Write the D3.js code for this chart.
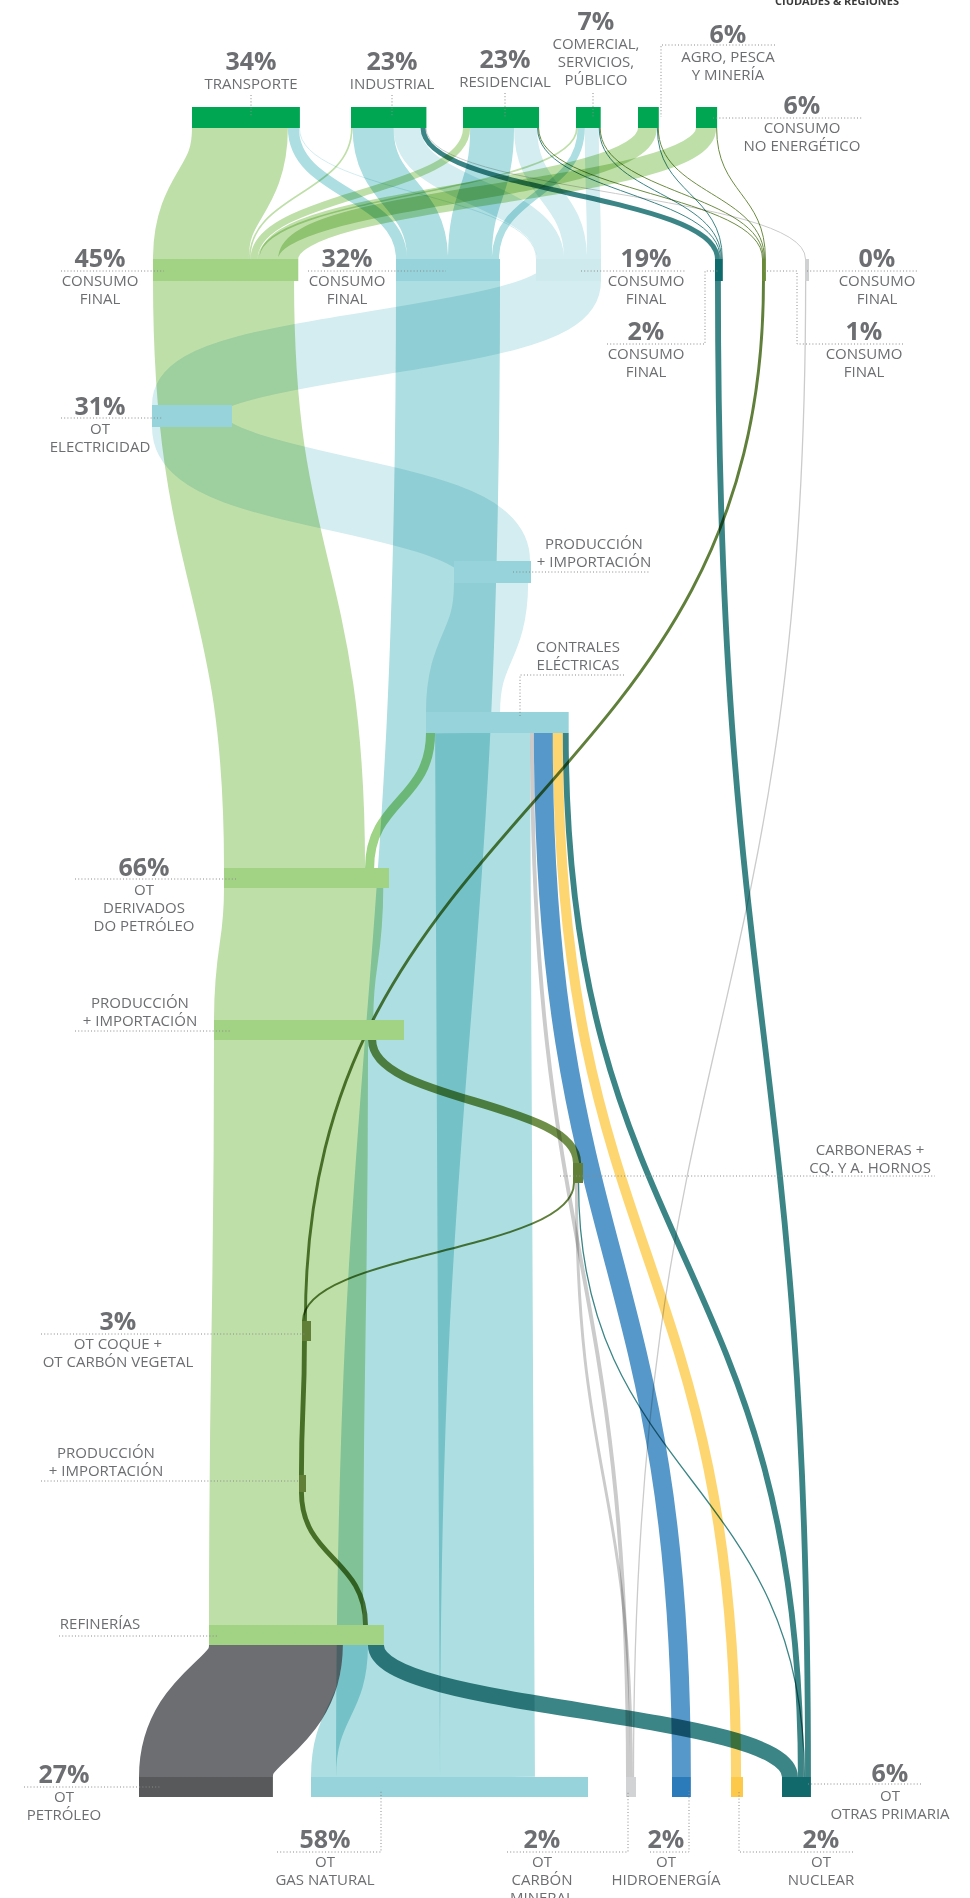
<!DOCTYPE html>
<html>
<head>
<meta charset="utf-8">
<script src="https://cdn.jsdelivr.net/npm/d3@7/dist/d3.min.js"></script>
<style>
  body { margin: 0; background: #fff; }
  svg { display: block; font-family: "Open Sans", sans-serif; }
  .link { fill: none; mix-blend-mode: multiply; }
  .pct { font-weight: 700; font-size: 25px; fill: #6d6e71; text-anchor: middle; }
  .lbl { font-size: 15px; fill: #6d6e71; text-anchor: middle; }
  .dots { fill: none; stroke: #8a8a8a; stroke-width: 1; stroke-dasharray: 1 2.2; }
</style>
</head>
<body>
<svg id="chart" width="970" height="1898"></svg>
<script>
// ---- data ----
const nodeIds = [
  "transporte", "industrial", "residencial", "comercial", "agro", "noEnergetico",
  "cf45", "cf32", "cf19", "cf2", "cf1", "cf0",
  "otElec", "prodElec", "centrales", "derivados", "prodDeriv", "carboneras",
  "coque", "prodCoque", "refinerias",
  "petroleo", "gas", "carbon", "hidro", "nuclear", "otras"
];
const nodePct = [34, 23, 23, 7, 6, 6,
  45, 32, 19, 2, 1, 0,
  31, null, null, 66, null, null,
  3, null, null,
  27, 58, 2, 2, 2, 6];
const nodeLabels = [
  ["TRANSPORTE"], ["INDUSTRIAL"], ["RESIDENCIAL"], ["COMERCIAL,", "SERVICIOS,", "PÚBLICO"],
  ["AGRO, PESCA", "Y MINERÍA"], ["CONSUMO", "NO ENERGÉTICO"],
  ["CONSUMO", "FINAL"], ["CONSUMO", "FINAL"], ["CONSUMO", "FINAL"],
  ["CONSUMO", "FINAL"], ["CONSUMO", "FINAL"], ["CONSUMO", "FINAL"],
  ["OT", "ELECTRICIDAD"], ["PRODUCCIÓN", "+ IMPORTACIÓN"], ["CONTRALES", "ELÉCTRICAS"],
  ["OT", "DERIVADOS", "DO PETRÓLEO"], ["PRODUCCIÓN", "+ IMPORTACIÓN"], ["CARBONERAS +", "CQ. Y A. HORNOS"],
  ["OT COQUE +", "OT CARBÓN VEGETAL"], ["PRODUCCIÓN", "+ IMPORTACIÓN"], ["REFINERÍAS"],
  ["OT", "PETRÓLEO"], ["OT", "GAS NATURAL"], ["OT", "CARBÓN", "MINERAL"],
  ["OT", "HIDROENERGÍA"], ["OT", "NUCLEAR"], ["OT", "OTRAS PRIMARIA"]
];

const sectorFlows = [
  ["cf45", "transporte", 29.5], ["cf45", "industrial", 0.5], ["cf45", "residencial", 2.2],
  ["cf45", "comercial", 0.5], ["cf45", "agro", 5.8], ["cf45", "noEnergetico", 6.2],
  ["cf32", "transporte", 3.4], ["cf32", "industrial", 12.6], ["cf32", "residencial", 13.5], ["cf32", "comercial", 2.2],
  ["cf19", "transporte", 0.3], ["cf19", "industrial", 8.3], ["cf19", "residencial", 7.1], ["cf19", "comercial", 4.3],
  ["cf2", "industrial", 1.5], ["cf2", "residencial", 0.3], ["cf2", "comercial", 0.3], ["cf2", "agro", 0.3],
  ["cf1", "residencial", 0.3], ["cf1", "comercial", 0.3], ["cf1", "agro", 0.3], ["cf1", "noEnergetico", 0.3],
  ["cf0", "industrial", 0.3]
];
const conversionFlows = [
  ["derivados", "cf45", 43.4], ["gas", "cf32", 32], ["otElec", "cf19", 20],
  ["otras", "cf2", 1.8], ["coque", "cf1", 0.9], ["carbon", "cf0", 0.4],
  ["prodElec", "otElec", 23.4], ["centrales", "prodElec", 22.8],
  ["derivados", "centrales", 2.8], ["prodDeriv", "derivados", 49],
  ["refinerias", "prodDeriv", 47.4], ["carboneras", "prodDeriv", 2.5],
  ["refinerias", "prodCoque", 1.5], ["prodCoque", "coque", 1.5],
  ["coque", "carboneras", 0.6]
];
const primaryFlows = [
  ["petroleo", "refinerias", 41.2], ["gas", "refinerias", 7.7], ["otras", "refinerias", 4.9],
  ["gas", "centrales", 29.2], ["carbon", "centrales", 1.2], ["hidro", "centrales", 5.8],
  ["nuclear", "centrales", 3.1], ["otras", "centrales", 1.8],
  ["carbon", "carboneras", 0.9], ["otras", "carboneras", 0.4]
];

// ---- layout ----
const rowNames = ["sector", "final", "elec", "prodElec", "centrales", "deriv", "prodDeriv",
  "carboneras", "coque", "prodCoque", "refinerias", "primary"];
const rowTops = [107, 259, 405, 561, 712, 868, 1020, 1163, 1321, 1475, 1625, 1777];
const rowHeights = [21, 22, 22, 22, 21, 20, 20, 20, 20, 17, 20, 20];
const rowY = d3.scaleOrdinal(rowNames, rowTops);
const rowH = d3.scaleOrdinal(rowNames, rowHeights);

const nodeRow = ["sector", "sector", "sector", "sector", "sector", "sector",
  "final", "final", "final", "final", "final", "final",
  "elec", "prodElec", "centrales", "deriv", "prodDeriv", "carboneras",
  "coque", "prodCoque", "refinerias",
  "primary", "primary", "primary", "primary", "primary", "primary"];
const nodeLeft = [192, 351, 463, 576, 638, 696,
  153, 396, 536, 715, 762, 805,
  152, 454, 426, 224, 214, 573,
  302, 299, 209,
  139, 311, 626, 672, 731, 782];
const nodeMinW = {otElec: 80, prodElec: 77, derivados: 165, prodDeriv: 190, carboneras: 10,
  coque: 9, prodCoque: 7, gas: 277, carbon: 10, nuclear: 12, cf0: 4};

const nodeColor = {
  transporte: "#00a651", industrial: "#00a651", residencial: "#00a651", comercial: "#00a651",
  agro: "#00a651", noEnergetico: "#00a651",
  cf45: "#a2d283", cf32: "#96d3da", cf19: "#cfeaed", cf2: "#0e6a6b", cf1: "#6a8a38", cf0: "#cfd1d2",
  otElec: "#96d3da", prodElec: "#96d3da", centrales: "#96d3da", derivados: "#a2d283",
  prodDeriv: "#a2d283", carboneras: "#627f38", coque: "#627f38", prodCoque: "#627f38",
  refinerias: "#a2d283", petroleo: "#58595b", gas: "#96d3da", carbon: "#d1d3d4",
  hidro: "#2b7bba", nuclear: "#fdc94b", otras: "#11696b"
};
const linkColor = {
  cf45: "#bfdfa9", derivados: "#bfdfa9", prodDeriv: "#bfdfa9", refinerias: "#bfdfa9",
  cf32: "#acdee2", gas: "#acdee2",
  cf19: "#d3edf0", otElec: "#d3edf0", prodElec: "#d3edf0", centrales: "#d3edf0",
  cf2: "#3b8586", otras: "#3b8586",
  cf1: "#6c8c42", coque: "#5f7f3a", prodCoque: "#5f7f3a", carboneras: "#6f8f48",
  cf0: "#cbcbcb", carbon: "#cbcbcb",
  petroleo: "#6d6e71", hidro: "#5698c9", nuclear: "#fed671"
};
const linkColorOverride = {"derivados>centrales": "#9fd386", "refinerias>prodCoque": "#5f7f3a"};

// label placement: x, baseline of % (or of first line), dotted leader
const labelLayout = {
  transporte: {x: 251, y: 70, dots: [[251, 95], [251, 117]]},
  industrial: {x: 392, y: 70, dots: [[392, 95], [392, 117]]},
  residencial: {x: 505, y: 68, dots: [[505, 93], [505, 117]]},
  comercial: {x: 596, y: 30, dots: [[593, 93], [593, 117]]},
  agro: {x: 728, y: 43, dots: [[775, 45], [661, 45], [661, 117]]},
  noEnergetico: {x: 802, y: 114, dots: [[713, 118], [862, 118]]},
  cf45: {x: 100, y: 267, dots: [[61, 271], [164, 271]]},
  cf32: {x: 347, y: 267, dots: [[308, 271], [446, 271]]},
  cf19: {x: 646, y: 267, dots: [[581, 271], [686, 271]]},
  cf2: {x: 646, y: 340, dots: [[607, 344], [705, 344], [705, 271], [719, 271]]},
  cf1: {x: 864, y: 340, dots: [[903, 344], [797, 344], [797, 271], [764, 271]]},
  cf0: {x: 877, y: 267, dots: [[807, 271], [917, 271]]},
  otElec: {x: 100, y: 415, dots: [[61, 418], [162, 418]]},
  prodElec: {x: 594, y: 549, dots: [[513, 572], [650, 572]]},
  centrales: {x: 578, y: 652, dots: [[624, 675], [520, 675], [520, 717]]},
  derivados: {x: 144, y: 876, dots: [[75, 879], [237, 879]]},
  prodDeriv: {x: 140, y: 1008, dots: [[75, 1031], [231, 1031]]},
  carboneras: {x: 870, y: 1155, dots: [[560, 1176], [935, 1176]]},
  coque: {x: 118, y: 1330, dots: [[41, 1334], [306, 1334]]},
  prodCoque: {x: 106, y: 1458, dots: [[41, 1481], [299, 1481]]},
  refinerias: {x: 100, y: 1629, dots: [[59, 1636], [219, 1636]]},
  petroleo: {x: 64, y: 1783, dots: [[24, 1787], [161, 1787]]},
  gas: {x: 325, y: 1848, dots: [[277, 1852], [381, 1852], [381, 1791]]},
  carbon: {x: 542, y: 1848, dots: [[507, 1852], [628, 1852], [628, 1791]]},
  hidro: {x: 666, y: 1848, dots: [[650, 1852], [689, 1852], [689, 1791]]},
  nuclear: {x: 821, y: 1848, dots: [[853, 1852], [739, 1852], [739, 1791]]},
  otras: {x: 890, y: 1782, dots: [[808, 1784], [922, 1784]]}
};

// ---- build ----
const width = d3.scaleLinear().domain([0, 1]).range([0, 3.25]); // % -> px

const nodes = nodeIds.map((id, i) => ({
  id, pct: nodePct[i], lines: nodeLabels[i], row: nodeRow[i], x0: nodeLeft[i]
}));
const byId = new Map(nodes.map(n => [n.id, n]));

const links = [...sectorFlows, ...conversionFlows, ...primaryFlows].map(([s, t, v]) => ({
  source: byId.get(s), target: byId.get(t), value: v, w: width(v)
}));

nodes.forEach(n => {
  n.y0 = rowY(n.row);
  n.y1 = n.y0 + rowH(n.row);
  const outs = links.filter(l => l.source === n).sort((a, b) => a.target.x0 - b.target.x0);
  const ins = links.filter(l => l.target === n).sort((a, b) => a.source.x0 - b.source.x0);
  let off = n.x0;
  outs.forEach(l => { l.sx = off + l.w / 2; off += l.w; });
  const outW = off - n.x0;
  off = n.x0;
  ins.forEach(l => { l.tx = off + l.w / 2; off += l.w; });
  const inW = off - n.x0;
  n.x1 = n.x0 + Math.max(outW, inW, nodeMinW[n.id] || 0);
});

const svg = d3.select("#chart");
const linkGen = d3.linkVertical().x(d => d[0]).y(d => d[1]);

// links (flow goes upward: source at bottom, target above)
svg.append("g")
  .selectAll("path")
  .data(links.slice().sort((a, b) => b.w - a.w))
  .join("path")
    .attr("class", "link")
    .attr("d", l => linkGen({source: [l.sx, l.source.y0], target: [l.tx, l.target.y1]}))
    .attr("stroke", l => linkColorOverride[l.source.id + ">" + l.target.id] || linkColor[l.source.id])
    .attr("stroke-width", l => Math.max(1, l.w));

// nodes
svg.append("g")
  .selectAll("rect")
  .data(nodes)
  .join("rect")
    .attr("x", d => d.x0)
    .attr("y", d => d.y0)
    .attr("width", d => d.x1 - d.x0)
    .attr("height", d => d.y1 - d.y0)
    .attr("fill", d => nodeColor[d.id]);

// labels
const lab = svg.append("g")
  .selectAll("g")
  .data(nodes)
  .join("g");

lab.append("path")
  .attr("class", "dots")
  .attr("d", d => d3.line()(labelLayout[d.id].dots));

lab.filter(d => d.pct !== null)
  .append("text")
    .attr("class", "pct")
    .attr("x", d => labelLayout[d.id].x)
    .attr("y", d => labelLayout[d.id].y)
    .text(d => d.pct + "%");

lab.each(function(d) {
  const L = labelLayout[d.id];
  const first = d.pct !== null ? L.y + 19 : L.y;
  d3.select(this).selectAll("text.lbl")
    .data(d.lines)
    .join("text")
      .attr("class", "lbl")
      .attr("x", L.x)
      .attr("y", (s, i) => first + i * 18)
      .text(s => s);
});

// cut-off header mark
svg.append("text")
  .attr("x", 837).attr("y", 5)
  .attr("text-anchor", "middle")
  .attr("font-size", 11).attr("font-weight", 700).attr("fill", "#3b3b3b")
  .text("CIUDADES & REGIONES");
</script>
</body>
</html>
